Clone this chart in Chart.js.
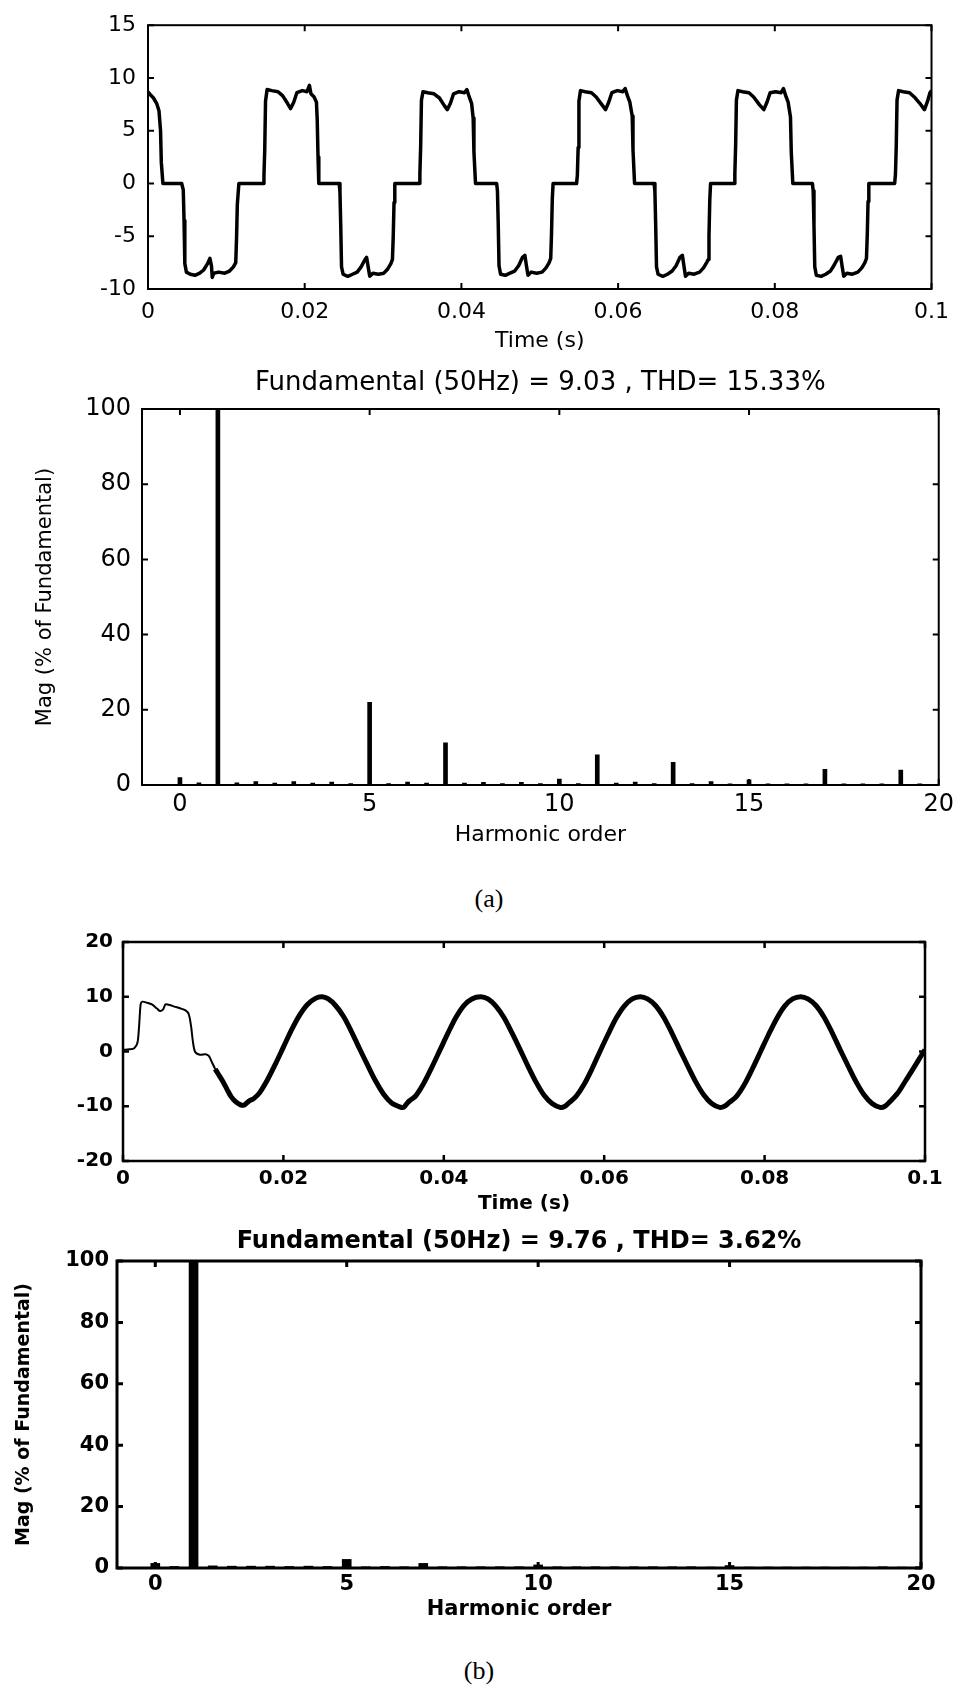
<!DOCTYPE html>
<html lang="en">
<head>
  <meta charset="UTF-8">
  <title>Inverter current and harmonic spectrum</title>
  <script src="https://cdn.jsdelivr.net/npm/chart.js"></script>
  <style>
    body {
      margin: 0;
      background: #fff;
      width: 959px;
      height: 1685px;
      position: relative;
      overflow: hidden;
    }
    .panel { position: absolute; left: 0; width: 959px; }
    .caption {
      position: absolute;
      font-family: 'Liberation Serif', serif;
      font-size: 26px;
      color: #000;
      transform: translate(-50%, -50%);
    }
  </style>
</head>
<body>
  <div class="panel" style="top:0;height:360px"><canvas id="waveA"></canvas></div>
  <div class="panel" style="top:360px;height:520px"><canvas id="specA"></canvas></div>
  <div class="caption" style="left:489px;top:899px">(a)</div>
  <div class="panel" style="top:920px;height:300px"><canvas id="waveB"></canvas></div>
  <div class="panel" style="top:1220px;height:420px"><canvas id="specB"></canvas></div>
  <div class="caption" style="left:479px;top:1671px">(b)</div>

  <script>
    // (a) stepped inverter current
    const timeA = [
      0.0000, 0.0003, 0.0007, 0.0011, 0.0014, 0.0016, 0.0017, 0.0019, 0.0043,
      0.0045, 0.0046, 0.0047, 0.0049, 0.0054, 0.0060, 0.0066, 0.0071, 0.0076, 0.0079, 0.0081, 0.0082, 0.0084, 0.0090, 0.0098, 0.0104, 0.0109, 0.0112, 0.0113, 0.0114, 0.0116, 0.0147,
      0.0148, 0.0149, 0.0150, 0.0152, 0.0158, 0.0166, 0.0172, 0.0178, 0.0182, 0.0186, 0.0190, 0.0197, 0.0203, 0.0206, 0.0208, 0.0212, 0.0215, 0.0216, 0.0217, 0.0218, 0.0244,
      0.0245, 0.0246, 0.0247, 0.0249, 0.0255, 0.0261, 0.0267, 0.0272, 0.0277, 0.0279, 0.0281, 0.0283, 0.0287, 0.0294, 0.0301, 0.0306, 0.0310, 0.0312, 0.0313, 0.0314, 0.0315, 0.0346,
      0.0347, 0.0348, 0.0349, 0.0351, 0.0357, 0.0365, 0.0372, 0.0378, 0.0382, 0.0386, 0.0390, 0.0397, 0.0404, 0.0407, 0.0410, 0.0413, 0.0415, 0.0416, 0.0418, 0.0445,
      0.0446, 0.0447, 0.0448, 0.0450, 0.0456, 0.0462, 0.0468, 0.0473, 0.0478, 0.0481, 0.0483, 0.0485, 0.0489, 0.0496, 0.0503, 0.0508, 0.0512, 0.0514, 0.0515, 0.0516, 0.0517, 0.0547,
      0.0548, 0.0549, 0.0550, 0.0552, 0.0558, 0.0566, 0.0572, 0.0579, 0.0584, 0.0588, 0.0592, 0.0599, 0.0606, 0.0609, 0.0612, 0.0615, 0.0618, 0.0619, 0.0621, 0.0646,
      0.0647, 0.0648, 0.0649, 0.0651, 0.0657, 0.0663, 0.0669, 0.0674, 0.0679, 0.0682, 0.0684, 0.0686, 0.0690, 0.0697, 0.0704, 0.0709, 0.0713, 0.0715, 0.0716, 0.0717, 0.0718, 0.0748,
      0.0749, 0.0750, 0.0751, 0.0753, 0.0759, 0.0767, 0.0773, 0.0780, 0.0786, 0.0790, 0.0794, 0.0801, 0.0808, 0.0811, 0.0814, 0.0817, 0.0820, 0.0821, 0.0823, 0.0848,
      0.0849, 0.0850, 0.0851, 0.0853, 0.0859, 0.0865, 0.0871, 0.0876, 0.0881, 0.0884, 0.0886, 0.0888, 0.0892, 0.0899, 0.0906, 0.0911, 0.0915, 0.0917, 0.0918, 0.0919, 0.0920, 0.0953,
      0.0954, 0.0955, 0.0956, 0.0958, 0.0964, 0.0972, 0.0978, 0.0985, 0.0991, 0.0995, 0.0998, 0.1000
    ];
    const currentA = [
      8.7, 8.4, 8.1, 7.6, 6.9, 5.0, 2.0, 0.0, 0.0,
      -0.6, -3.5, -7.6, -8.4, -8.6, -8.7, -8.5, -8.2, -7.6, -7.1, -7.8, -8.9, -8.5, -8.4, -8.5, -8.3, -7.9, -7.5, -5.2, -2.0, 0.0, 0.0,
      0.8, 3.2, 7.8, 8.9, 8.8, 8.7, 8.3, 7.6, 7.1, 7.7, 8.6, 8.8, 8.7, 9.3, 8.5, 8.2, 7.7, 6.0, 2.5, 0.0, 0.0,
      -0.8, -4.0, -7.9, -8.6, -8.8, -8.6, -8.4, -7.9, -7.2, -7.0, -7.9, -8.8, -8.5, -8.6, -8.5, -8.1, -7.6, -7.2, -5.0, -1.8, 0.0, 0.0,
      0.9, 3.5, 7.9, 8.7, 8.6, 8.5, 8.1, 7.4, 7.0, 7.6, 8.5, 8.7, 8.6, 8.9, 8.2, 7.6, 6.2, 3.0, 0.0, 0.0,
      -0.7, -3.8, -7.8, -8.6, -8.7, -8.5, -8.3, -7.8, -7.0, -6.8, -7.8, -8.7, -8.4, -8.5, -8.4, -8.0, -7.5, -7.1, -4.8, -1.5, 0.0, 0.0,
      0.8, 3.4, 7.8, 8.8, 8.7, 8.6, 8.2, 7.5, 7.0, 7.7, 8.6, 8.8, 8.7, 9.0, 8.3, 7.7, 6.4, 3.2, 0.0, 0.0,
      -0.8, -4.1, -7.9, -8.6, -8.8, -8.6, -8.3, -7.8, -7.0, -6.8, -7.8, -8.8, -8.5, -8.6, -8.4, -8.0, -7.5, -7.2, -5.0, -1.6, 0.0, 0.0,
      0.9, 3.6, 7.9, 8.8, 8.7, 8.6, 8.2, 7.5, 7.0, 7.7, 8.6, 8.7, 8.6, 9.0, 8.3, 7.7, 6.3, 3.0, 0.0, 0.0,
      -0.7, -4.0, -7.9, -8.7, -8.8, -8.6, -8.3, -7.7, -7.0, -6.9, -7.9, -8.8, -8.5, -8.6, -8.4, -8.0, -7.5, -7.1, -4.9, -1.7, 0.0, 0.0,
      0.9, 3.5, 7.9, 8.8, 8.7, 8.6, 8.2, 7.6, 7.0, 7.8, 8.6, 8.8
    ];

    // (b) compensated current
    const timeB = [
      0.0000, 0.0008, 0.0014, 0.0018, 0.0020, 0.0022, 0.0024, 0.0030, 0.0036, 0.0042, 0.0046, 0.0050, 0.0053, 0.0058,
      0.0064, 0.0071, 0.0078, 0.0082, 0.0085, 0.0087, 0.0090, 0.0096, 0.0103, 0.0107, 0.0111, 0.0115,
      0.0120, 0.0125, 0.0130, 0.0135, 0.0140, 0.0146, 0.0151, 0.0155, 0.0159, 0.0163, 0.0170, 0.0180, 0.0190,
      0.0200, 0.0210, 0.0220, 0.0230, 0.0240, 0.0248, 0.0256, 0.0265, 0.0275, 0.0285, 0.0295,
      0.0305, 0.0315, 0.0325, 0.0335, 0.0345, 0.0350, 0.0355, 0.0359, 0.0365, 0.0375, 0.0385, 0.0395,
      0.0405, 0.0415, 0.0425, 0.0435, 0.0446, 0.0455, 0.0465, 0.0475, 0.0485, 0.0495,
      0.0505, 0.0515, 0.0525, 0.0535, 0.0545, 0.0550, 0.0556, 0.0565, 0.0575, 0.0585, 0.0595,
      0.0605, 0.0615, 0.0625, 0.0635, 0.0645, 0.0654, 0.0664, 0.0674, 0.0684, 0.0694,
      0.0704, 0.0714, 0.0724, 0.0734, 0.0744, 0.0750, 0.0756, 0.0765, 0.0775, 0.0785, 0.0795,
      0.0805, 0.0815, 0.0825, 0.0835, 0.0845, 0.0854, 0.0864, 0.0874, 0.0884, 0.0894,
      0.0904, 0.0914, 0.0924, 0.0934, 0.0944, 0.0950, 0.0956, 0.0966, 0.0976, 0.0986, 0.0996, 0.1000
    ];
    const currentB = [
      0.3, 0.4, 0.6, 1.6, 4.5, 8.6, 9.1, 8.9, 8.6, 7.9, 7.4, 7.7, 8.6, 8.5,
      8.2, 7.9, 7.5, 6.8, 4.5, 2.0, -0.1, -0.6, -0.5, -0.8, -2.0, -3.2,
      -4.4, -5.6, -7.0, -8.3, -9.1, -9.7, -9.8, -9.3, -8.9, -8.6, -7.6, -5.2, -2.3,
      0.8, 3.9, 6.6, 8.6, 9.7, 10.0, 9.6, 8.4, 6.4, 3.6, 0.5,
      -2.5, -5.4, -7.8, -9.4, -10.1, -10.2, -9.3, -8.8, -8.1, -5.8, -2.9, 0.2,
      3.3, 6.2, 8.4, 9.6, 10.0, 9.6, 8.3, 6.2, 3.4, 0.4,
      -2.7, -5.6, -8.0, -9.5, -10.2, -10.1, -9.4, -8.2, -6.0, -3.1, 0.1,
      3.2, 6.1, 8.3, 9.6, 10.0, 9.6, 8.4, 6.3, 3.5, 0.4,
      -2.6, -5.5, -7.9, -9.5, -10.2, -10.0, -9.3, -8.2, -6.0, -3.1, 0.0,
      3.1, 6.0, 8.3, 9.6, 10.0, 9.6, 8.4, 6.3, 3.5, 0.4,
      -2.6, -5.5, -7.9, -9.5, -10.2, -10.0, -9.2, -7.6, -5.3, -3.0, -0.6, 0.3
    ];
    const startupEnd = 0.0115;

    // harmonic spectra (% of fundamental)
    const harmonicOrder = [
      0, 0.5, 1, 1.5, 2, 2.5, 3, 3.5, 4, 4.5, 5, 5.5, 6, 6.5, 7, 7.5, 8, 8.5, 9, 9.5,
      10, 10.5, 11, 11.5, 12, 12.5, 13, 13.5, 14, 14.5, 15, 15.5, 16, 16.5, 17, 17.5, 18, 18.5, 19, 19.5, 20
    ];
    const magA = [
      2.0, 0.6, 100, 0.6, 0.9, 0.5, 0.9, 0.5, 0.8, 0.4, 22.0, 0.4, 0.8, 0.5, 11.2, 0.5, 0.7, 0.4, 0.7, 0.4,
      1.6, 0.4, 8.0, 0.5, 0.8, 0.4, 6.0, 0.4, 0.9, 0.3, 1.4, 0.3, 0.3, 0.3, 4.2, 0.3, 0.3, 0.3, 4.0, 0.3, 0.2
    ];
    const magB = [
      1.5, 0.5, 100, 0.7, 0.6, 0.6, 0.6, 0.5, 0.6, 0.5, 2.8, 0.4, 0.5, 0.4, 1.5, 0.4, 0.4, 0.4, 0.4, 0.4,
      1.0, 0.4, 0.4, 0.4, 0.4, 0.4, 0.4, 0.4, 0.4, 0.3, 0.8, 0.3, 0.3, 0.3, 0.3, 0.3, 0.3, 0.3, 0.4, 0.3, 0.3
    ];

    Chart.defaults.font.family = "'DejaVu Sans', sans-serif";
    Chart.defaults.color = '#000';
    Chart.defaults.animation = false;
    Chart.defaults.plugins.legend.display = false;
    Chart.defaults.plugins.tooltip.enabled = false;

    // matlab style box with inward ticks
    const boxPlugin = {
      id: 'box',
      afterDatasetsDraw(chart, args, opts) {
        const { ctx, chartArea: a, scales } = chart;
        ctx.save();
        ctx.strokeStyle = '#000';
        ctx.lineWidth = opts.lineWidth || 2;
        ctx.strokeRect(a.left, a.top, a.right - a.left, a.bottom - a.top);
        const len = 6;
        ctx.beginPath();
        scales.x.ticks.forEach(t => {
          const px = scales.x.getPixelForValue(t.value);
          ctx.moveTo(px, a.bottom); ctx.lineTo(px, a.bottom - len);
          ctx.moveTo(px, a.top); ctx.lineTo(px, a.top + len);
        });
        scales.y.ticks.forEach(t => {
          const py = scales.y.getPixelForValue(t.value);
          ctx.moveTo(a.left, py); ctx.lineTo(a.left + len, py);
          ctx.moveTo(a.right, py); ctx.lineTo(a.right - len, py);
        });
        ctx.stroke();
        ctx.restore();
      }
    };

    const toPoints = (xs, ys) => xs.map((x, i) => ({ x: x, y: ys[i] }));
    const timeLabel = v => v === 0 ? '0' : (Math.abs(v - 0.1) < 1e-9 ? '0.1' : v.toFixed(2));

    function waveChart(id, times, values, cfg) {
      return new Chart(document.getElementById(id), {
        type: 'line',
        data: {
          datasets: [{
            data: toPoints(times, values),
            borderColor: '#000',
            borderWidth: cfg.lineWidth,
            borderJoinStyle: 'round',
            pointRadius: 0,
            tension: cfg.tension,
            segment: cfg.segment
          }]
        },
        options: {
          responsive: true,
          maintainAspectRatio: false,
          layout: { padding: cfg.padding },
          plugins: { box: { lineWidth: cfg.boxWidth } },
          scales: {
            x: {
              type: 'linear', min: 0, max: 0.1,
              grid: { display: false, drawTicks: false },
              border: { display: false },
              ticks: { stepSize: 0.02, padding: cfg.xPad, font: cfg.tickFont, callback: timeLabel, maxRotation: 0 },
              title: { display: true, text: 'Time (s)', font: cfg.titleFont, padding: { top: 0, bottom: cfg.titlePad } },
              afterFit: s => { s.height = cfg.xHeight; }
            },
            y: {
              min: cfg.yMin, max: cfg.yMax,
              grid: { display: false, drawTicks: false },
              border: { display: false },
              ticks: { stepSize: cfg.yStep, padding: cfg.yPad, font: cfg.tickFont },
              afterFit: s => { s.width = cfg.yWidth; }
            }
          }
        },
        plugins: [boxPlugin]
      });
    }

    function spectrumChart(id, mags, cfg) {
      return new Chart(document.getElementById(id), {
        type: 'bar',
        data: {
          datasets: [{
            data: toPoints(harmonicOrder, mags),
            backgroundColor: '#000',
            borderWidth: 0,
            barThickness: cfg.barWidth
          }]
        },
        options: {
          responsive: true,
          maintainAspectRatio: false,
          layout: { padding: cfg.padding },
          plugins: { box: { lineWidth: cfg.boxWidth } },
          scales: {
            x: {
              type: 'linear', min: -1, max: 20, offset: false,
              grid: { display: false, drawTicks: false },
              border: { display: false },
              ticks: { stepSize: 5, includeBounds: false, padding: cfg.xPad, font: cfg.tickFont, maxRotation: 0 },
              title: { display: true, text: 'Harmonic order', font: cfg.titleFont, padding: { top: 0, bottom: cfg.titlePad } },
              afterFit: s => { s.height = cfg.xHeight; }
            },
            top: {
              type: 'linear', position: 'top',
              grid: { display: false, drawTicks: false },
              border: { display: false },
              ticks: { display: false },
              title: { display: true, text: cfg.heading, font: cfg.headFont, padding: { top: cfg.headPad, bottom: 0 } },
              afterFit: s => { s.height = cfg.topHeight; }
            },
            y: {
              min: 0, max: 100,
              grid: { display: false, drawTicks: false },
              border: { display: false },
              ticks: { stepSize: 20, padding: cfg.yPad, font: cfg.tickFont },
              title: { display: true, text: 'Mag (% of Fundamental)', font: cfg.yTitleFont, padding: { top: cfg.yTitlePad, bottom: 0 } },
              afterFit: s => { s.width = cfg.yWidth; }
            }
          }
        },
        plugins: [boxPlugin]
      });
    }

    waveChart('waveA', timeA, currentA, {
      lineWidth: 3.5, tension: 0, boxWidth: 2,
      padding: { top: 20, right: 19, left: 0, bottom: 0 },
      yMin: -10, yMax: 15, yStep: 5, yWidth: 148, yPad: 12,
      xHeight: 71, xPad: 10, titlePad: 6,
      tickFont: { size: 22 }, titleFont: { size: 22 }
    });

    spectrumChart('specA', magA, {
      barWidth: 4, boxWidth: 2,
      padding: { top: 0, right: 16, left: 0, bottom: 0 },
      heading: 'Fundamental (50Hz) = 9.03 , THD= 15.33%',
      headFont: { size: 26 }, headPad: 8, topHeight: 49,
      yWidth: 142, yPad: 11, yTitleFont: { size: 21 }, yTitlePad: 33,
      xHeight: 95, xPad: 5, titlePad: 32,
      tickFont: { size: 24 }, titleFont: { size: 22 }
    });

    waveChart('waveB', timeB, currentB, {
      lineWidth: 5, tension: 0.3, boxWidth: 2.5,
      segment: { borderWidth: c => c.p0.parsed.x < startupEnd ? 2 : 5 },
      padding: { top: 22, right: 34, left: 0, bottom: 0 },
      yMin: -20, yMax: 20, yStep: 10, yWidth: 123, yPad: 10,
      xHeight: 59, xPad: 6, titlePad: 4,
      tickFont: { size: 20, weight: 'bold' }, titleFont: { size: 20, weight: 'bold' }
    });

    spectrumChart('specB', magB, {
      barWidth: 9, boxWidth: 3,
      padding: { top: 0, right: 38, left: 0, bottom: 0 },
      heading: 'Fundamental (50Hz) = 9.76 , THD= 3.62%',
      headFont: { size: 24, weight: 'bold' }, headPad: 7, topHeight: 41,
      yWidth: 117, yPad: 8, yTitleFont: { size: 19, weight: 'bold' }, yTitlePad: 13,
      xHeight: 72, xPad: 4, titlePad: 18,
      tickFont: { size: 21, weight: 'bold' }, titleFont: { size: 21, weight: 'bold' }
    });
  </script>
</body>
</html>
